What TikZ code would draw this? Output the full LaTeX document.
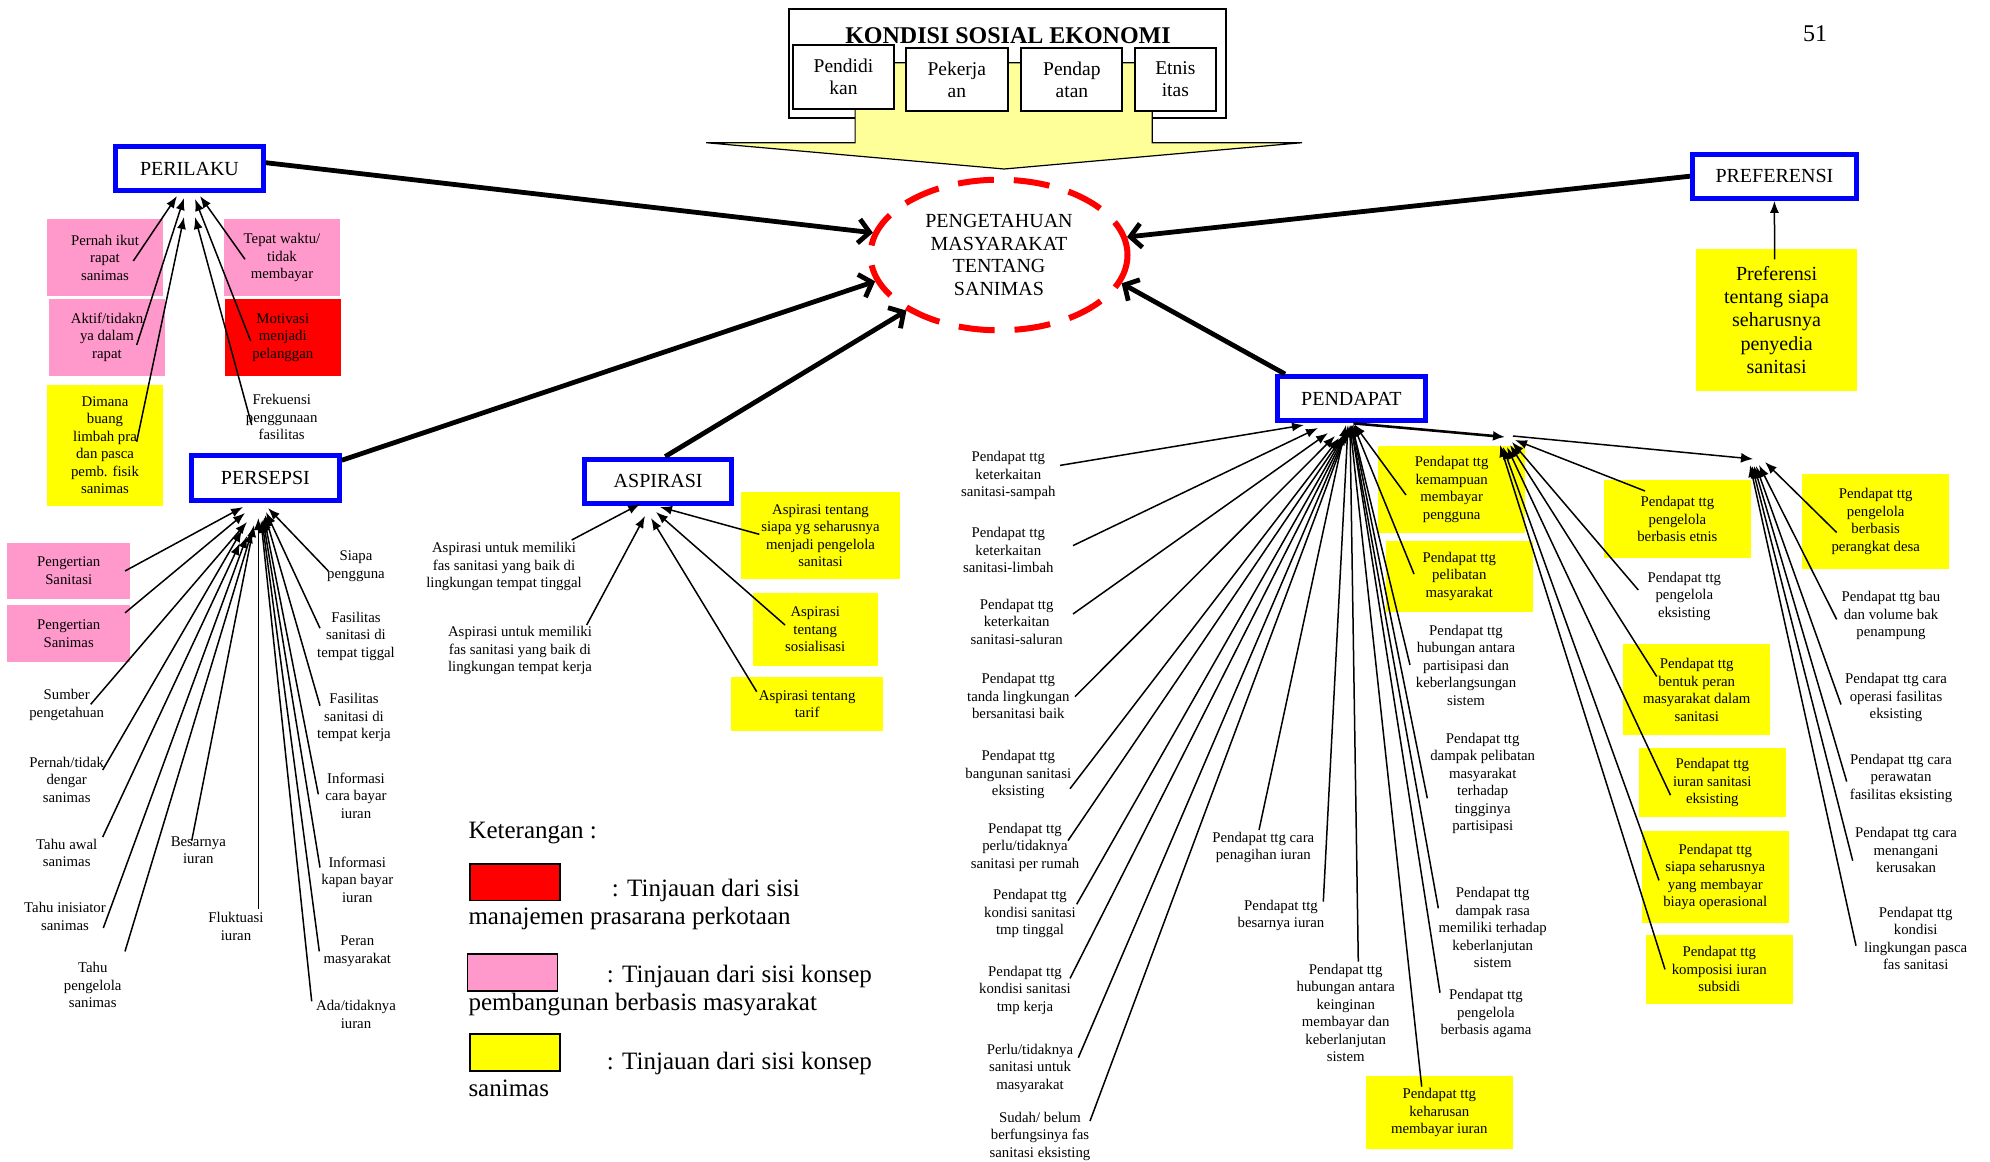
\documentclass[tikz,border=0pt]{standalone}
\usepackage{fontspec}
\setmainfont{Liberation Serif}
\usetikzlibrary{arrows.meta,shapes.geometric}
\definecolor{pinkbg}{HTML}{FF99CC}
\definecolor{yelbg}{HTML}{FFFF00}
\definecolor{redbg}{HTML}{FF0000}
\definecolor{paleyel}{HTML}{FFFF99}
\definecolor{mainblue}{HTML}{0000FF}

\begin{document}
\begin{tikzpicture}[x=1pt,y=-1pt,
  small/.style={font=\fontsize{14.8}{17.5}\selectfont, align=center, inner sep=0pt},
  pinkbx/.style={small, fill=pinkbg},
  redbx/.style={small, fill=redbg},
  yelbx/.style={small, fill=yelbg},
  mainbx/.style={draw=mainblue, line width=5pt, fill=white, inner sep=0pt,
    font=\fontsize{20}{22}\selectfont, minimum height=44.3pt},
  ksbox/.style={draw, line width=2pt, fill=white, inner sep=0pt, align=center,
    font=\fontsize{19.5}{22}\selectfont, minimum height=63.7pt},
  lead/.style={line width=1.5pt, -{Latex[length=12pt,width=9pt]}},
  thickarr/.style={line width=4.8pt, -{Straight Barb[length=11pt,width=24pt]}},
  legtxt/.style={font=\fontsize{25}{28.5}\selectfont, inner sep=0pt},
  swatch/.style={draw, line width=1.3pt}
]
\useasboundingbox (0,0) rectangle (1990,1162);
\fill[white] (0,0) rectangle (1990,1162);

% ---------- page number ----------
\node[font=\fontsize{24}{28}\selectfont, anchor=base] (pagenum) at (1815,41) {51};

% ---------- socio-economic conditions block ----------
\node[draw, line width=2pt, fill=white, minimum width=436.7pt, minimum height=108.7pt] (ks) at (1007.2,63.7) {};
\node[font=\fontsize{24}{28}\selectfont\bfseries, anchor=base] (kstitle) at (1008,43) {KONDISI SOSIAL EKONOMI};
\draw[fill=paleyel, line width=1.2pt] (855.1,62.7) -- (1152.2,62.7) -- (1152.2,142.7) -- (1302,142.7)
  -- (1004.1,169) -- (706.1,142.7) -- (855.1,142.7) -- cycle;
\node[ksbox, minimum width=101.3pt] (pendidikan) at (843.5,77.2) {Pendidi\\kan};
\node[ksbox, minimum width=101.7pt] (pekerjaan) at (956.8,79.5) {Pekerja\\an};
\node[ksbox, minimum width=100.9pt] (pendapatan) at (1071.9,79.5) {Pendap\\atan};
\node[ksbox, minimum width=81.6pt] (etnisitas) at (1175.3,79.5) {Etnis\\itas};

% ---------- central ellipse ----------
\node[ellipse, draw=red, line width=6pt, dash pattern=on 36pt off 20pt,
  minimum width=257pt, minimum height=150.6pt, inner sep=0pt, align=center,
  font=\fontsize{20}{22.8}\selectfont] (pk) at (999,255)
  {PENGETAHUAN\\MASYARAKAT\\TENTANG\\SANIMAS};

% ---------- main category boxes ----------
\node[mainbx, minimum width=147.4pt] (perilaku) at (189.5,168.7) {PERILAKU};
\node[mainbx, minimum width=147.7pt] (persepsi) at (265.4,477.9) {PERSEPSI};
\node[mainbx, minimum width=146.7pt] (aspirasi) at (658.2,481.2) {ASPIRASI};
\node[mainbx, minimum width=147.7pt] (pendapat) at (1351.4,398.7) {PENDAPAT};
\node[mainbx, minimum width=163.8pt] (preferensi) at (1774.4,176.2) {PREFERENSI};

% thick arrows into the ellipse
\draw[thickarr] ([yshift=6pt]perilaku.east) -- (pk.170);
\draw[thickarr] ([yshift=-7pt]persepsi.north east) -- (pk.192);
\draw[thickarr] ([xshift=7pt]aspirasi.north) -- (pk.211);
\draw[thickarr] ([xshift=10pt]pendapat.north west) -- (pk.347);
\draw[thickarr] (preferensi.west) -- (pk.8);

% ---------- PERILAKU items ----------
\node[pinkbx, minimum width=115.4pt, minimum height=76.4pt] (pl1) at (105,257.5) {Pernah ikut\\rapat\\sanimas};
\node[pinkbx, minimum width=116pt, minimum height=76.4pt] (pl2) at (282,257.5) {Tepat waktu/\\tidak\\membayar};
\node[pinkbx, minimum width=116pt, minimum height=76.7pt] (pl3) at (107,337.3) {Aktif/tidakn\\ya dalam\\rapat};
\node[redbx, minimum width=115.7pt, minimum height=76.7pt] (pl4) at (282.8,337.3) {Motivasi\\menjadi\\pelanggan};
\node[yelbx, minimum width=115.4pt, minimum height=120.7pt] (pl5) at (105,445.3) {Dimana\\buang\\limbah pra\\dan pasca\\pemb. fisik\\sanimas};
\node[small] (pl6) at (281.7,417.3) {Frekuensi\\penggunaan\\fasilitas};

\coordinate (pl1s) at (133.3,261);   \coordinate (pl1t) at (177,196);
\coordinate (pl2s) at (245,259.3);   \coordinate (pl2t) at (200,196);
\coordinate (pl3s) at (136.7,345);   \coordinate (pl3t) at (184,198);
\coordinate (pl4s) at (250.7,341);   \coordinate (pl4t) at (195,199);
\coordinate (pl5s) at (136.7,441.7); \coordinate (pl5t) at (184,217);
\coordinate (pl6s) at (251.7,425);   \coordinate (pl6t) at (195,217);
\foreach \i in {1,...,6} \draw[lead] (pl\i s) -- (pl\i t);

% ---------- PERSEPSI items ----------
\node[pinkbx, minimum width=122.7pt, minimum height=56.1pt] (ps1) at (68.7,570.6) {Pengertian\\Sanitasi};
\node[pinkbx, minimum width=122.7pt, minimum height=57pt] (ps2) at (68.7,633.5) {Pengertian\\Sanimas};
\node[small] (ps3) at (66.7,705) {Sumber\\pengetahuan};
\node[small] (ps4) at (66.7,779.5) {Pernah/tidak\\dengar\\sanimas};
\node[small] (ps5) at (66.7,853) {Tahu awal\\sanimas};
\node[small] (ps6) at (65,916.6) {Tahu inisiator\\sanimas};
\node[small] (ps7) at (92.7,985.4) {Tahu\\pengelola\\sanimas};
\node[small] (ps8) at (198.3,850.3) {Besarnya\\iuran};
\node[small] (ps9) at (236,926.5) {Fluktuasi\\iuran};
\node[small] (ps10) at (356,566) {Siapa\\pengguna};
\node[small] (ps11) at (356,636.4) {Fasilitas\\sanitasi di\\tempat tiggal};
\node[small] (ps12) at (354,717.5) {Fasilitas\\sanitasi di\\tempat kerja};
\node[small] (ps13) at (356,795.7) {Informasi\\cara bayar\\iuran};
\node[small] (ps14) at (357.3,879.5) {Informasi\\kapan bayar\\iuran};
\node[small] (ps15) at (357.3,951.4) {Peran\\masyarakat};
\node[small] (ps16) at (356,1014.6) {Ada/tidaknya\\iuran};

\coordinate (ps1s) at (125,571);    \coordinate (ps1t) at (243,507);
\coordinate (ps2s) at (125,612.9);  \coordinate (ps2t) at (245,513);
\coordinate (ps3s) at (90.7,704.3); \coordinate (ps3t) at (247,522);
\coordinate (ps4s) at (102.7,770);  \coordinate (ps4t) at (242,530);
\coordinate (ps5s) at (102.7,837);  \coordinate (ps5t) at (240,543);
\coordinate (ps6s) at (103.3,928);  \coordinate (ps6t) at (247,536);
\coordinate (ps7s) at (125,951.4);  \coordinate (ps7t) at (252,531);
\coordinate (ps8s) at (191.7,840.7); \coordinate (ps8t) at (254,525);
\coordinate (ps9s) at (258.3,908.6); \coordinate (ps9t) at (258.3,518);
\coordinate (ps10s) at (328.3,571); \coordinate (ps10t) at (268,508);
\coordinate (ps11s) at (320,628.2); \coordinate (ps11t) at (266,512);
\coordinate (ps12s) at (320,705.7); \coordinate (ps12t) at (265,515);
\coordinate (ps13s) at (318.3,794.3); \coordinate (ps13t) at (264,517);
\coordinate (ps14s) at (320,867.5); \coordinate (ps14t) at (263,519);
\coordinate (ps15s) at (319.3,951.4); \coordinate (ps15t) at (262,520);
\coordinate (ps16s) at (311.7,1001.4); \coordinate (ps16t) at (261,521);
\foreach \i in {1,...,16} \draw[lead] (ps\i s) -- (ps\i t);

% ---------- ASPIRASI items ----------
\node[small] (as1) at (504,566.7) {Aspirasi untuk memiliki\\fas sanitasi yang baik di\\lingkungan tempat tinggal};
\node[small] (as2) at (520,650.8) {Aspirasi untuk memiliki\\fas sanitasi yang baik di\\lingkungan tempat kerja};
\node[yelbx, minimum width=159pt, minimum height=87.6pt] (as3) at (820.5,535.5) {Aspirasi tentang\\siapa yg seharusnya\\menjadi pengelola\\sanitasi};
\node[yelbx, minimum width=125pt, minimum height=72.4pt] (as4) at (815.2,629.5) {Aspirasi\\tentang\\sosialisasi};
\node[yelbx, minimum width=152.3pt, minimum height=53.7pt] (as5) at (807.2,704.2) {Aspirasi tentang\\tarif};

\coordinate (as1s) at (571.7,540);  \coordinate (as1t) at (640,504);
\coordinate (as2s) at (586.7,625);  \coordinate (as2t) at (645,516);
\coordinate (as3s) at (759.3,534.3); \coordinate (as3t) at (660,507);
\coordinate (as4s) at (785,625);    \coordinate (as4t) at (656,512);
\coordinate (as5s) at (756.7,691.7); \coordinate (as5t) at (651,518);
\foreach \i in {1,...,5} \draw[lead] (as\i s) -- (as\i t);

% ---------- PREFERENSI item ----------
\node[yelbx, font=\fontsize{20}{23.3}\selectfont, minimum width=161.6pt, minimum height=141.7pt] (pf1) at (1776.6,319.9)
  {Preferensi\\tentang siapa\\seharusnya\\penyedia\\sanitasi};
\coordinate (pf1s) at (1774.6,259.3);
\draw[lead] (pf1s) -- (preferensi.south);

% ---------- PENDAPAT items, left fan ----------
\node[small] (pd1) at (1008.3,475.8) {Pendapat ttg\\keterkaitan\\sanitasi-sampah};
\node[small] (pd2) at (1008.3,550) {Pendapat ttg\\keterkaitan\\sanitasi-limbah};
\node[small] (pd3) at (1016.7,621.8) {Pendapat ttg\\keterkaitan\\sanitasi-saluran};
\node[small] (pd4) at (1018.3,696.3) {Pendapat ttg\\tanda lingkungan\\bersanitasi baik};
\node[small] (pd5) at (1018.3,774.5) {Pendapat ttg\\bangunan sanitasi\\eksisting};
\node[small] (pd6) at (1025,847.2) {Pendapat ttg\\perlu/tidaknya\\sanitasi per rumah};
\node[small] (pd7) at (1030,913.7) {Pendapat ttg\\kondisi sanitasi\\tmp tinggal};
\node[small] (pd8) at (1025,990.4) {Pendapat ttg\\kondisi sanitasi\\tmp kerja};
\node[small] (pd9) at (1030,1068.3) {Perlu/tidaknya\\sanitasi untuk\\masyarakat};
\node[small] (pd10) at (1040,1136) {Sudah/ belum\\berfungsinya fas\\sanitasi eksisting};

\coordinate (pd1s) at (1060,465.4);  \coordinate (pd1t) at (1304,425);
\coordinate (pd2s) at (1073,545.6);  \coordinate (pd2t) at (1318,428);
\coordinate (pd3s) at (1073,614);    \coordinate (pd3t) at (1328,433);
\coordinate (pd4s) at (1075,696.6);  \coordinate (pd4t) at (1335,436);
\coordinate (pd5s) at (1070,788.7);  \coordinate (pd5t) at (1339,438);
\coordinate (pd6s) at (1068,840.6);  \coordinate (pd6t) at (1342,437);
\coordinate (pd7s) at (1076.7,904.3); \coordinate (pd7t) at (1344,435);
\coordinate (pd8s) at (1070,978.4);  \coordinate (pd8t) at (1346,433);
\coordinate (pd9s) at (1078.3,1057.7); \coordinate (pd9t) at (1347,431);
\coordinate (pd10s) at (1090,1121);  \coordinate (pd10t) at (1348,429);
\foreach \i in {1,...,10} \draw[lead] (pd\i s) -- (pd\i t);

% ---------- PENDAPAT items, lower fan ----------
\node[yelbx, minimum width=146.7pt, minimum height=86.7pt] (pr1) at (1451.7,489.3) {Pendapat ttg\\kemampuan\\membayar\\pengguna};
\node[yelbx, minimum width=146.7pt, minimum height=70.7pt] (pr2) at (1459.3,576.3) {Pendapat ttg\\pelibatan\\masyarakat};
\node[small] (pr3) at (1466,665) {Pendapat ttg\\hubungan antara\\partisipasi dan\\keberlangsungan\\sistem};
\node[small] (pr4) at (1482.7,783.3) {Pendapat ttg\\dampak pelibatan\\masyarakat\\terhadap\\tingginya\\partisipasi};
\node[small] (pr5) at (1263.3,847.7) {Pendapat ttg cara\\penagihan iuran};
\node[small] (pr6) at (1281,915.3) {Pendapat ttg\\besarnya iuran};
\node[small] (pr7) at (1345.7,1012.7) {Pendapat ttg\\hubungan antara\\keinginan\\membayar dan\\keberlanjutan\\sistem};
\node[small] (pr8) at (1492.7,927.5) {Pendapat ttg\\dampak rasa\\memiliki terhadap\\keberlanjutan\\sistem};
\node[small] (pr9) at (1486,1013.7) {Pendapat ttg\\pengelola\\berbasis agama};
\node[yelbx, minimum width=146.7pt, minimum height=73.3pt] (pr10) at (1439.3,1112.7) {Pendapat ttg\\keharusan\\membayar iuran};

\coordinate (pr1s) at (1406,495);    \coordinate (pr1t) at (1354,424);
\coordinate (pr2s) at (1414,574);    \coordinate (pr2t) at (1353,424);
\coordinate (pr3s) at (1410,665);    \coordinate (pr3t) at (1352,425);
\coordinate (pr4s) at (1427.3,798.3); \coordinate (pr4t) at (1352,425);
\coordinate (pr5s) at (1259,830);    \coordinate (pr5t) at (1346,425);
\coordinate (pr6s) at (1323.3,901.7); \coordinate (pr6t) at (1348,425);
\coordinate (pr7s) at (1358.3,961.7); \coordinate (pr7t) at (1350,425);
\coordinate (pr8s) at (1438.3,908.3); \coordinate (pr8t) at (1351,425);
\coordinate (pr9s) at (1440,992.7);  \coordinate (pr9t) at (1351,425);
\coordinate (pr10s) at (1421.7,1086.7); \coordinate (pr10t) at (1350,425);
\foreach \i in {1,...,10} \draw[lead] (pr\i s) -- (pr\i t);

% ---------- PENDAPAT: first junction ----------
\coordinate (jA) at (1505,437);
\coordinate (jB) at (1753,459);
\draw[line width=2.6pt, -{Latex[length=12pt,width=10pt]}] ([xshift=2pt]pendapat.south) -- (jA);
\draw[line width=1.5pt, -{Latex[length=12pt,width=10pt]}] ([xshift=8pt,yshift=1pt]jA) -- (jB);

\node[yelbx, minimum width=146.7pt, minimum height=77.9pt] (pe1) at (1677.4,519.2) {Pendapat ttg\\pengelola\\berbasis etnis};
\node[small] (pe2) at (1684.3,596) {Pendapat ttg\\pengelola\\eksisting};
\node[yelbx, minimum width=146.7pt, minimum height=90.6pt] (pe3) at (1696.7,689.7) {Pendapat ttg\\bentuk peran\\masyarakat dalam\\sanitasi};
\node[yelbx, minimum width=146.7pt, minimum height=69.2pt] (pe4) at (1712.3,782.6) {Pendapat ttg\\iuran sanitasi\\eksisting};
\node[yelbx, minimum width=147.3pt, minimum height=91.7pt] (pe5) at (1715.3,876.8) {Pendapat ttg\\siapa seharusnya\\yang membayar\\biaya operasional};
\node[yelbx, minimum width=146.7pt, minimum height=69.2pt] (pe6) at (1719.3,969.2) {Pendapat ttg\\komposisi iuran\\subsidi};

\coordinate (pe1s) at (1645,491);    \coordinate (pe1t) at (1515,440);
\coordinate (pe2s) at (1638.3,590);  \coordinate (pe2t) at (1512,442);
\coordinate (pe3s) at (1656.7,676.5); \coordinate (pe3t) at (1510,445);
\coordinate (pe4s) at (1670.5,795.2); \coordinate (pe4t) at (1507,447);
\coordinate (pe5s) at (1659,880.4);  \coordinate (pe5t) at (1503,447);
\coordinate (pe6s) at (1665,969.4);  \coordinate (pe6t) at (1500,445);
\foreach \i in {1,...,6} \draw[lead] (pe\i s) -- (pe\i t);

% ---------- PENDAPAT: second junction ----------
\node[yelbx, minimum width=146.7pt, minimum height=95.2pt] (pq1) at (1875.7,521.6) {Pendapat ttg\\pengelola\\berbasis\\perangkat desa};
\node[small] (pq2) at (1891,615.5) {Pendapat ttg bau\\dan volume bak\\penampung};
\node[small] (pq3) at (1896,697.7) {Pendapat ttg cara\\operasi fasilitas\\eksisting};
\node[small] (pq4) at (1901,778.2) {Pendapat ttg cara\\perawatan\\fasilitas eksisting};
\node[small] (pq5) at (1906,850.3) {Pendapat ttg cara\\menangani\\kerusakan};
\node[small] (pq6) at (1915.7,938.2) {Pendapat ttg\\kondisi\\lingkungan pasca\\fas sanitasi};

\coordinate (pq1s) at (1836.7,532.5); \coordinate (pq1t) at (1765,462);
\coordinate (pq2s) at (1836.7,619.5); \coordinate (pq2t) at (1759,465);
\coordinate (pq3s) at (1841,704.5);  \coordinate (pq3t) at (1756,466);
\coordinate (pq4s) at (1846.7,781.6); \coordinate (pq4t) at (1754,466);
\coordinate (pq5s) at (1852.7,860.7); \coordinate (pq5t) at (1752,466);
\coordinate (pq6s) at (1856,945.7);  \coordinate (pq6t) at (1750,465);
\foreach \i in {1,...,6} \draw[lead] (pq\i s) -- (pq\i t);

% ---------- legend ----------
\node[legtxt, anchor=base west] (legtitle) at (468.3,838.3) {Keterangan :};
\node[swatch, fill=redbg, minimum width=90pt, minimum height=36.4pt, inner sep=0pt] (legred) at (515,882.2) {};
\node[legtxt, anchor=base west] (legred1) at (611.7,896.7) {: Tinjauan dari sisi};
\node[legtxt, anchor=base west] (legred2) at (468.3,924) {manajemen prasarana perkotaan};
\node[swatch, fill=pinkbg, minimum width=90pt, minimum height=37pt, inner sep=0pt] (legpink) at (512.5,972.5) {};
\node[legtxt, anchor=base west] (legpink1) at (606.7,982.7) {: Tinjauan dari sisi konsep};
\node[legtxt, anchor=base west] (legpink2) at (468.3,1010.7) {pembangunan berbasis masyarakat};
\node[swatch, fill=yelbg, minimum width=90pt, minimum height=37pt, inner sep=0pt] (legyel) at (515,1052.5) {};
\node[legtxt, anchor=base west] (legyel1) at (606.7,1069.3) {: Tinjauan dari sisi konsep};
\node[legtxt, anchor=base west] (legyel2) at (468.3,1096.7) {sanimas};
\end{tikzpicture}
\end{document}
